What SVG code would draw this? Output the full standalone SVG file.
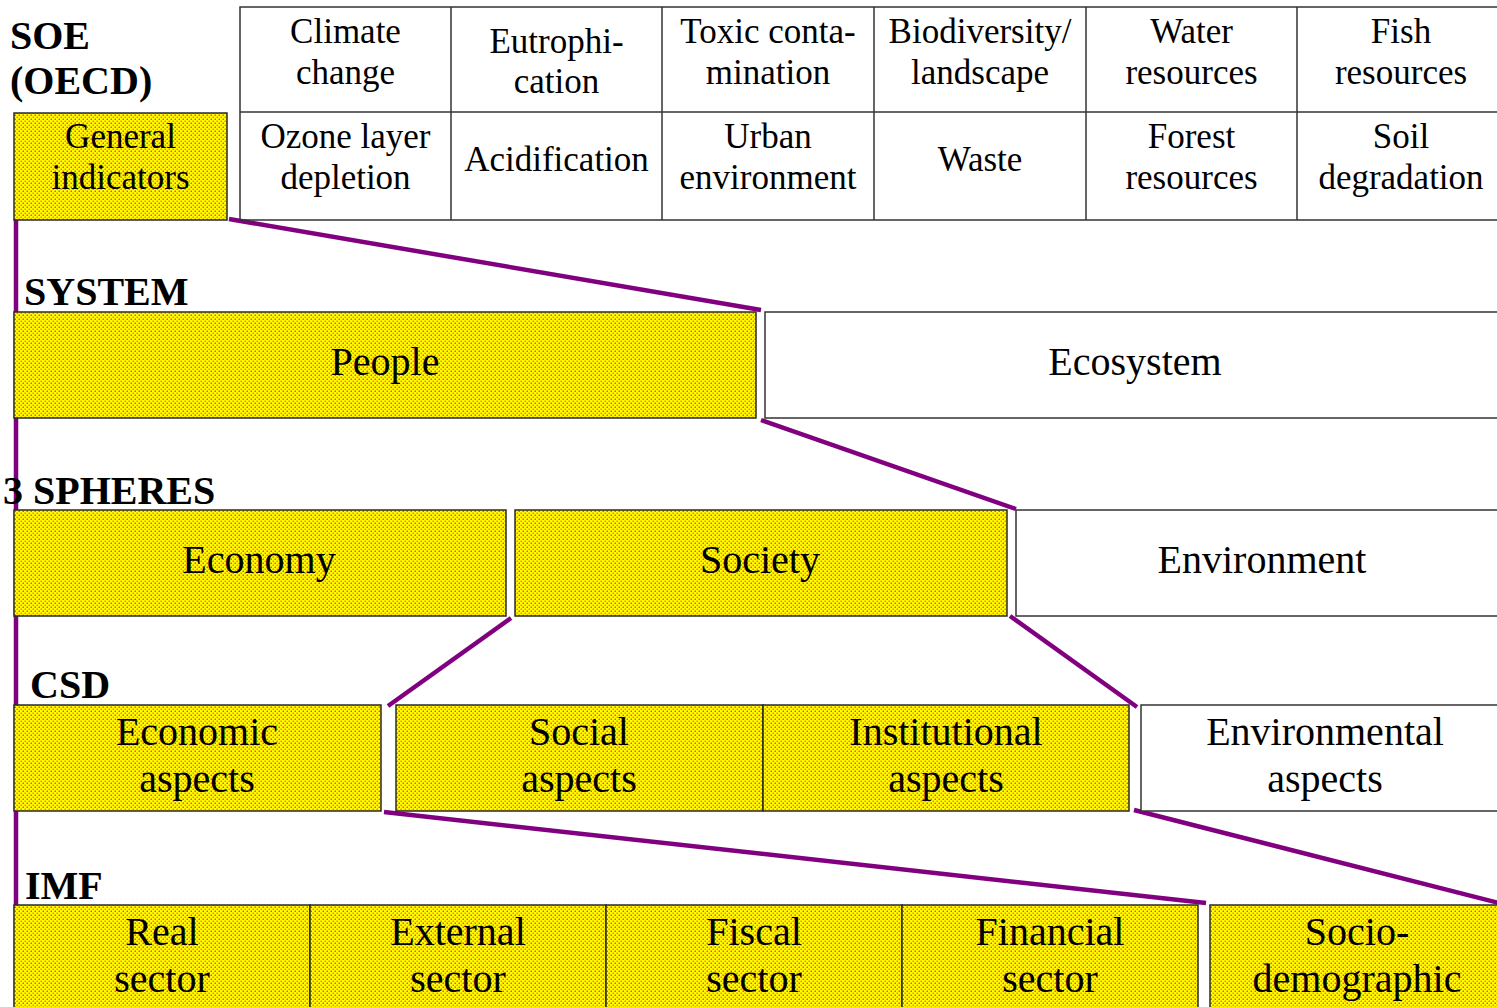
<svg xmlns="http://www.w3.org/2000/svg" width="1497" height="1007" viewBox="0 0 1497 1007">
<defs>
<pattern id="dots" x="0" y="0" width="4" height="4" patternUnits="userSpaceOnUse">
<rect width="4" height="4" fill="#ffff00"/>
<rect x="0.5" y="0.5" width="1.5" height="1.5" fill="#ff8000"/>
<rect x="2.5" y="2.5" width="1.5" height="1.5" fill="#ff5000"/>
</pattern>
</defs>
<style>
.yb{fill:url(#dots);stroke:#2a2a2a;stroke-width:1.5}
.wb{fill:#ffffff;stroke:#333333;stroke-width:1.5}
.grid{fill:none;stroke:#333333;stroke-width:1.5}
.t35{font-family:"Liberation Serif","Times New Roman",serif;font-size:35px;fill:#000;text-anchor:middle}
.t40{font-family:"Liberation Serif","Times New Roman",serif;font-size:40px;fill:#000;text-anchor:middle}
.lbl{font-family:"Liberation Serif","Times New Roman",serif;font-size:40px;font-weight:bold;fill:#000}
.con{stroke:#800080;stroke-width:4.5;fill:none}
</style>
<rect width="1497" height="1007" fill="#ffffff"/>

<g id="connectors">
<line class="con" x1="16" y1="219" x2="16" y2="1007"/>
<line class="con" x1="229" y1="219" x2="761" y2="310"/>
<line class="con" x1="761" y1="420" x2="1016" y2="509"/>
<line class="con" x1="511" y1="618" x2="388" y2="706"/>
<line class="con" x1="1010" y1="616" x2="1137" y2="707"/>
<line class="con" x1="384" y1="812" x2="1206" y2="903"/>
<line class="con" x1="1134" y1="810" x2="1499" y2="903"/>
</g>

<g id="level-labels">
<text class="lbl" x="10" y="49">SOE</text>
<text class="lbl" x="10" y="94">(OECD)</text>
<text class="lbl" x="24" y="305">SYSTEM</text>
<text class="lbl" x="3" y="504">3 SPHERES</text>
<text class="lbl" x="30" y="698">CSD</text>
<text class="lbl" x="25" y="899">IMF</text>
</g>

<g id="soe-table">
<rect class="grid" x="240" y="7" width="1262" height="213"/>
<line class="grid" x1="240" y1="112" x2="1502" y2="112"/>
<line class="grid" x1="451" y1="7" x2="451" y2="220"/>
<line class="grid" x1="662" y1="7" x2="662" y2="220"/>
<line class="grid" x1="874" y1="7" x2="874" y2="220"/>
<line class="grid" x1="1086" y1="7" x2="1086" y2="220"/>
<line class="grid" x1="1297" y1="7" x2="1297" y2="220"/>
<g id="climate-change"><text class="t35" x="345.5" y="43">Climate</text><text class="t35" x="345.5" y="84">change</text></g>
<g id="eutrophication"><text class="t35" x="556.5" y="53">Eutrophi-</text><text class="t35" x="556.5" y="93">cation</text></g>
<g id="toxic-contamination"><text class="t35" x="768" y="43">Toxic conta-</text><text class="t35" x="768" y="84">mination</text></g>
<g id="biodiversity"><text class="t35" x="980" y="43">Biodiversity/</text><text class="t35" x="980" y="84">landscape</text></g>
<g id="water-resources"><text class="t35" x="1191.5" y="43">Water</text><text class="t35" x="1191.5" y="84">resources</text></g>
<g id="fish-resources"><text class="t35" x="1401" y="43">Fish</text><text class="t35" x="1401" y="84">resources</text></g>
<g id="ozone"><text class="t35" x="345.5" y="148">Ozone layer</text><text class="t35" x="345.5" y="189">depletion</text></g>
<g id="acidification"><text class="t35" x="556.5" y="171">Acidification</text></g>
<g id="urban-environment"><text class="t35" x="768" y="148">Urban</text><text class="t35" x="768" y="189">environment</text></g>
<g id="waste"><text class="t35" x="980" y="171">Waste</text></g>
<g id="forest-resources"><text class="t35" x="1191.5" y="148">Forest</text><text class="t35" x="1191.5" y="189">resources</text></g>
<g id="soil-degradation"><text class="t35" x="1401" y="148">Soil</text><text class="t35" x="1401" y="189">degradation</text></g>
</g>

<g id="general-indicators">
<rect class="yb" x="14" y="113" width="213" height="107"/>
<text class="t35" x="120.5" y="148">General</text>
<text class="t35" x="120.5" y="189">indicators</text>
</g>

<g id="people">
<rect class="yb" x="14" y="312" width="742" height="106"/>
<text class="t40" x="385" y="375">People</text>
</g>
<g id="ecosystem">
<rect class="wb" x="765" y="312" width="740" height="106"/>
<text class="t40" x="1135" y="375">Ecosystem</text>
</g>

<g id="economy">
<rect class="yb" x="14" y="510" width="492" height="106"/>
<text class="t40" x="259" y="573">Economy</text>
</g>
<g id="society">
<rect class="yb" x="515" y="510" width="492" height="106"/>
<text class="t40" x="760" y="573">Society</text>
</g>
<g id="environment">
<rect class="wb" x="1016" y="510" width="489" height="106"/>
<text class="t40" x="1262" y="573">Environment</text>
</g>

<g id="economic-aspects">
<rect class="yb" x="14" y="705" width="367" height="106"/>
<text class="t40" x="197" y="745">Economic</text>
<text class="t40" x="197" y="792">aspects</text>
</g>
<g id="social-aspects">
<rect class="yb" x="396" y="705" width="367" height="106"/>
<text class="t40" x="579" y="745">Social</text>
<text class="t40" x="579" y="792">aspects</text>
</g>
<g id="institutional-aspects">
<rect class="yb" x="763" y="705" width="366" height="106"/>
<text class="t40" x="946" y="745">Institutional</text>
<text class="t40" x="946" y="792">aspects</text>
</g>
<g id="environmental-aspects">
<rect class="wb" x="1141" y="705" width="364" height="106"/>
<text class="t40" x="1325" y="745">Environmental</text>
<text class="t40" x="1325" y="792">aspects</text>
</g>

<g id="real-sector">
<rect class="yb" x="14" y="905" width="296" height="110"/>
<text class="t40" x="162" y="945">Real</text>
<text class="t40" x="162" y="992">sector</text>
</g>
<g id="external-sector">
<rect class="yb" x="310" y="905" width="296" height="110"/>
<text class="t40" x="458" y="945">External</text>
<text class="t40" x="458" y="992">sector</text>
</g>
<g id="fiscal-sector">
<rect class="yb" x="606" y="905" width="296" height="110"/>
<text class="t40" x="754" y="945">Fiscal</text>
<text class="t40" x="754" y="992">sector</text>
</g>
<g id="financial-sector">
<rect class="yb" x="902" y="905" width="296" height="110"/>
<text class="t40" x="1050" y="945">Financial</text>
<text class="t40" x="1050" y="992">sector</text>
</g>
<g id="socio-demographic">
<rect class="yb" x="1210" y="905" width="295" height="110"/>
<text class="t40" x="1357" y="945">Socio-</text>
<text class="t40" x="1357" y="992">demographic</text>
</g>
</svg>
